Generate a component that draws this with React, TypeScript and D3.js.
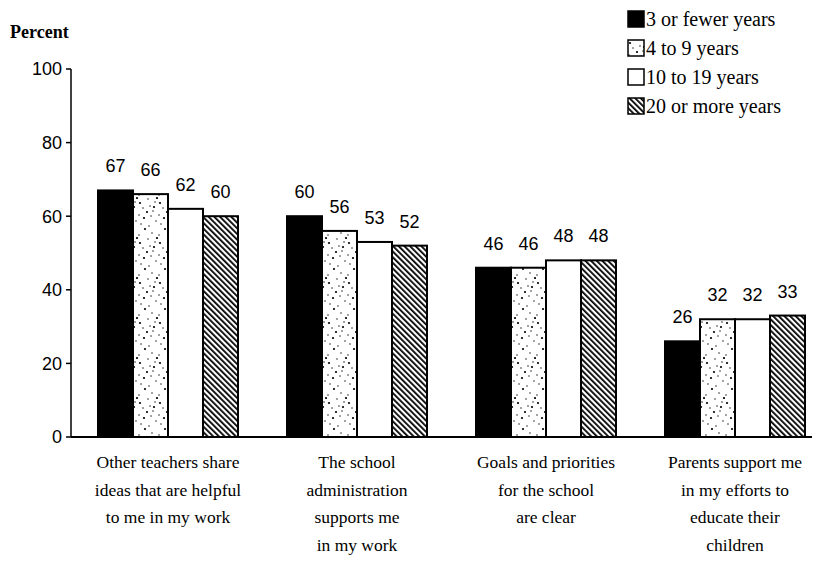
import React from "react";
import * as d3 from "d3";

const categories = [
  ["Other teachers share", "ideas that are helpful", "to me in my work"],
  ["The school", "administration", "supports me", "in my work"],
  ["Goals and priorities", "for the school", "are clear"],
  ["Parents support me", "in my efforts to", "educate their", "children"],
];
const seriesNames = ["3 or fewer years", "4 to 9 years", "10 to 19 years", "20 or more years"];
const v3orFewer = [67, 60, 46, 26];
const v4to9 = [66, 56, 46, 32];
const v10to19 = [62, 53, 48, 32];
const v20plus = [60, 52, 48, 33];
const yTicks = [0, 20, 40, 60, 80, 100];

const seriesValues = [v3orFewer, v4to9, v10to19, v20plus];
const fills = ["#000", "url(#dots)", "#fff", "url(#hatch)"];

const dotPts: [number, number][] = [
  [2, 3], [12, 6], [17, 2], [9, 12], [15, 11], [1, 15], [6, 18], [13, 16], [18, 21], [16, 7], [3, 24], [11, 26], [7, 29], [14, 33], [1, 35], [19, 38], [10, 39], [5, 8],
];

export default function App() {
  const W = 821, H = 561;
  const groupIdx = categories.map((_, i) => String(i));
  const x0 = d3.scaleBand().domain(groupIdx).range([98, 805]).paddingInner(49 / 189).paddingOuter(0);
  const x1 = d3.scaleBand().domain(seriesNames).range([0, x0.bandwidth()]);
  const y = d3.scaleLinear().domain([0, 100]).range([437, 69]);
  const serif = "Liberation Serif, Times New Roman, serif";
  const sans = "Liberation Sans, Arial, sans-serif";

  return (
    <svg width={W} height={H} style={{ position: "absolute", left: 0, top: 0, background: "#fff" }}>
      <defs>
        <pattern id="dots" width="20" height="40" patternUnits="userSpaceOnUse">
          <rect width="20" height="40" fill="#fff" />
          {dotPts.map(([cx, cy], i) => (
            <circle key={i} cx={cx} cy={cy} r={i % 3 === 0 ? 1.1 : 0.7} fill="#000" />
          ))}
        </pattern>
        <pattern id="hatch" width="4" height="4" patternUnits="userSpaceOnUse" patternTransform="rotate(-45)">
          <rect width="4" height="4" fill="#fff" />
          <rect x="0" y="0" width="1.8" height="4" fill="#000" />
        </pattern>
      </defs>

      <text x={10} y={38} fontFamily={serif} fontWeight="bold" fontSize={18}>Percent</text>

      {/* y axis */}
      <line x1={71} x2={71} y1={y(100)} y2={y(0)} stroke="#000" strokeWidth={1.5} />
      {yTicks.map((t) => (
        <g key={t}>
          <line x1={66} x2={71} y1={y(t)} y2={y(t)} stroke="#000" strokeWidth={1.5} />
          <text x={62} y={y(t)} dy="0.35em" textAnchor="end" fontFamily={sans} fontSize={18}>{t}</text>
        </g>
      ))}

      {/* bars */}
      {groupIdx.map((g, gi) => (
        <g key={g} transform={`translate(${x0(g)},0)`}>
          {seriesNames.map((s, si) => {
            const v = seriesValues[si][gi];
            const bx = x1(s)!;
            return (
              <g key={s}>
                <rect x={bx} y={y(v)} width={x1.bandwidth()} height={y(0) - y(v)} fill={fills[si]} stroke="#000" strokeWidth={2} />
                <text x={bx + x1.bandwidth() / 2} y={y(v) - 18} textAnchor="middle" fontFamily={sans} fontSize={18}>{v}</text>
              </g>
            );
          })}
        </g>
      ))}

      {/* x axis */}
      <line x1={71} x2={812} y1={y(0)} y2={y(0)} stroke="#000" strokeWidth={2} />

      {/* category labels */}
      {categories.map((lines, gi) => (
        <text key={gi} textAnchor="middle" fontFamily={serif} fontSize={17.5}>
          {lines.map((l, li) => (
            <tspan key={li} x={x0(String(gi))! + x0.bandwidth() / 2} y={468 + li * 27.5}>{l}</tspan>
          ))}
        </text>
      ))}

      {/* legend */}
      {seriesNames.map((s, i) => (
        <g key={s} transform={`translate(628,${11 + i * 29})`}>
          <rect x={0} y={0} width={16} height={16} fill={fills[i]} stroke="#000" strokeWidth={1.5} />
          <text x={18} y={15} fontFamily={serif} fontSize={20}>{s}</text>
        </g>
      ))}
    </svg>
  );
}
